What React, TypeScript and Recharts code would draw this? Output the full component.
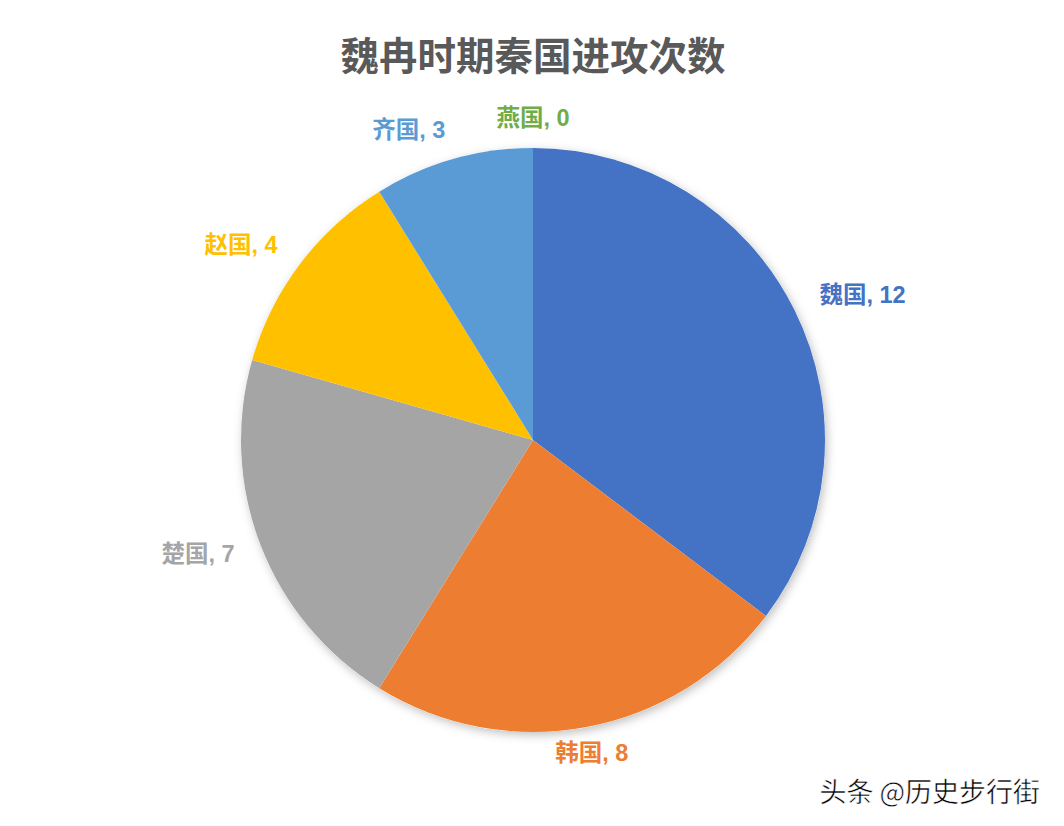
import React from 'react';
import { PieChart, Pie, Cell } from 'recharts';

const states = ['魏国', '韩国', '楚国', '赵国', '齐国', '燕国'];
const attacks = [12, 8, 7, 4, 3, 0];
const colors = ['#4472C4', '#ED7D31', '#A5A5A5', '#FFC000', '#5B9BD5', '#70AD47'];

const data = states.map((name, i) => ({ name, value: attacks[i] }));
const backdrop = [{ name: 'all', value: attacks.reduce((a, b) => a + b, 0) }];

const FONT = '"Liberation Sans", Arial, "Noto Sans CJK SC", sans-serif';
const RAD = Math.PI / 180;

// label sits a fixed distance outside the rim, anchored by side
function renderLabel(props: any) {
  const { cx, cy, midAngle, outerRadius, index } = props;
  const r = outerRadius + 28;
  const ux = Math.cos(-midAngle * RAD);
  const uy = Math.sin(-midAngle * RAD);
  const anchor = ux > 0.25 ? 'start' : ux < -0.25 ? 'end' : 'middle';
  return (
    <text
      key={`lbl-${index}`}
      x={cx + r * ux}
      y={cy + r * uy - 2}
      textAnchor={anchor}
      dominantBaseline="central"
      fill={colors[index]}
      fontSize={23.5}
      fontWeight="bold"
      fontFamily={FONT}
    >
      {`${states[index]}, ${attacks[index]}`}
    </text>
  );
}

export default function App() {
  return (
    <div style={{ position: 'absolute', top: 0, left: 0, width: 1064, height: 826, background: '#fff' }}>
      <PieChart width={1064} height={826} margin={{ top: 0, right: 0, bottom: 0, left: 0 }}>
        <defs>
          <filter id="pieShadow" x="-20%" y="-20%" width="140%" height="140%">
            <feDropShadow dx="2" dy="3" stdDeviation="5" floodColor="#000" floodOpacity="0.25" />
          </filter>
        </defs>
        <text
          x={533}
          y={56}
          textAnchor="middle"
          dominantBaseline="central"
          fontSize={38.5}
          fontWeight="bold"
          fill="#595959"
          fontFamily={FONT}
        >
          魏冉时期秦国进攻次数
        </text>
        <Pie
          data={backdrop}
          dataKey="value"
          cx={533}
          cy={440}
          outerRadius={292}
          startAngle={90}
          endAngle={-270}
          stroke="none"
          isAnimationActive={false}
        >
          <Cell fill="#fff" filter="url(#pieShadow)" />
        </Pie>
        <Pie
          data={data}
          dataKey="value"
          nameKey="name"
          cx={533}
          cy={440}
          outerRadius={292}
          startAngle={90}
          endAngle={-270}
          stroke="none"
          label={renderLabel}
          labelLine={false}
          isAnimationActive={false}
        >
          {data.map((d, i) => (
            <Cell key={d.name} fill={colors[i]} />
          ))}
        </Pie>
        <text
          x={1040}
          y={790}
          textAnchor="end"
          dominantBaseline="central"
          fontSize={27}
          fill="#000"
          stroke="#fff"
          strokeWidth={0.5}
          fontFamily='"Noto Sans CJK SC", sans-serif'
        >
          头条 @历史步行街
        </text>
      </PieChart>
    </div>
  );
}
